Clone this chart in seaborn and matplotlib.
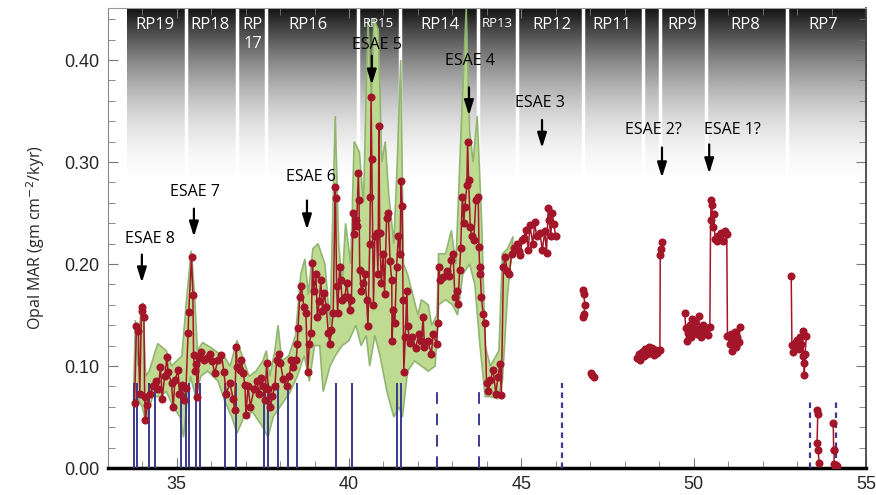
import numpy as np
import pandas as pd
import matplotlib
matplotlib.use('Agg')
import matplotlib.pyplot as plt
import seaborn as sns
from matplotlib.ticker import MultipleLocator, FormatStrFormatter

# --- dados ---
# segmento continuo 33.8 - 46.0 Ma
age_s1 = [33.78, 33.83, 33.88, 33.93, 33.98, 34.00, 34.05, 34.07, 34.09, 34.15,
          34.22, 34.32, 34.41, 34.46, 34.53, 34.58, 34.65, 34.72, 34.75, 34.85,
          34.90, 34.95, 35.04, 35.08, 35.16, 35.21, 35.27, 35.33, 35.35, 35.43,
          35.47, 35.49, 35.52, 35.57, 35.60, 35.65, 35.72, 35.80, 35.87, 35.96,
          36.03, 36.10, 36.20, 36.30, 36.37, 36.44, 36.54, 36.64, 36.68, 36.73,
          36.75, 36.83, 36.88, 36.93, 36.98, 37.01, 37.07, 37.14, 37.24, 37.32,
          37.40, 37.46, 37.51, 37.56, 37.61, 37.66, 37.72, 37.78, 37.85, 37.90,
          37.98, 38.01, 38.09, 38.19, 38.27, 38.33, 38.38, 38.47, 38.50, 38.52,
          38.57, 38.62, 38.69, 38.75, 38.80, 38.85, 38.90, 38.94, 38.98, 39.04,
          39.08, 39.14, 39.18, 39.23, 39.28, 39.34, 39.40, 39.44, 39.49, 39.54,
          39.60, 39.61, 39.64, 39.67, 39.73, 39.76, 39.80, 39.88, 39.93, 39.98,
          40.02, 40.07, 40.12, 40.15, 40.19, 40.22, 40.27, 40.29, 40.31, 40.36,
          40.41, 40.46, 40.51, 40.55, 40.60, 40.62, 40.64, 40.66, 40.71, 40.75,
          40.80, 40.84, 40.87, 40.89, 40.94, 40.99, 41.03, 41.09, 41.14, 41.19,
          41.24, 41.25, 41.28, 41.33, 41.38, 41.43, 41.48, 41.51, 41.54, 41.57,
          41.59, 41.63, 41.68, 41.70, 41.77, 41.84, 41.93, 42.03, 42.10, 42.15,
          42.19, 42.28, 42.39, 42.44, 42.54, 42.58, 42.60, 42.65, 42.73, 42.83,
          42.91, 42.97, 43.02, 43.07, 43.13, 43.16, 43.21, 43.24, 43.29, 43.33,
          43.36, 43.42, 43.44, 43.47, 43.52, 43.56, 43.62, 43.68, 43.75, 43.77,
          43.79, 43.81, 43.84, 43.89, 43.94, 43.99, 44.04, 44.10, 44.18, 44.26,
          44.32, 44.38, 44.42, 44.48, 44.53, 44.59, 44.65, 44.72, 44.79, 44.87,
          44.92, 44.97, 45.02, 45.08, 45.13, 45.20, 45.25, 45.33, 45.39, 45.44,
          45.54, 45.61, 45.68, 45.73, 45.78, 45.81, 45.85, 45.90, 45.94, 46.00]
mar_s1 = [0.064, 0.139, 0.134, 0.073, 0.158, 0.154, 0.148, 0.070, 0.047, 0.062,
          0.073, 0.080, 0.085, 0.077, 0.099, 0.068, 0.090, 0.109, 0.094, 0.083,
          0.060, 0.086, 0.096, 0.073, 0.081, 0.067, 0.078, 0.132, 0.153, 0.207,
          0.170, 0.111, 0.095, 0.102, 0.070, 0.108, 0.114, 0.106, 0.108, 0.112,
          0.105, 0.093, 0.106, 0.111, 0.094, 0.073, 0.083, 0.068, 0.057, 0.119,
          0.099, 0.096, 0.106, 0.093, 0.081, 0.052, 0.080, 0.060, 0.077, 0.085,
          0.073, 0.088, 0.080, 0.067, 0.103, 0.077, 0.060, 0.071, 0.080, 0.106,
          0.112, 0.103, 0.087, 0.080, 0.090, 0.106, 0.099, 0.106, 0.122, 0.137,
          0.168, 0.178, 0.158, 0.152, 0.094, 0.122, 0.132, 0.201, 0.174, 0.190,
          0.148, 0.164, 0.184, 0.154, 0.172, 0.158, 0.132, 0.122, 0.135, 0.152,
          0.276, 0.265, 0.178, 0.152, 0.197, 0.184, 0.165, 0.168, 0.181, 0.168,
          0.155, 0.165, 0.250, 0.229, 0.243, 0.237, 0.289, 0.263, 0.194, 0.174,
          0.181, 0.190, 0.165, 0.139, 0.220, 0.266, 0.364, 0.303, 0.160, 0.227,
          0.230, 0.190, 0.335, 0.230, 0.181, 0.210, 0.171, 0.245, 0.250, 0.203,
          0.184, 0.125, 0.155, 0.142, 0.197, 0.227, 0.210, 0.281, 0.257, 0.165,
          0.094, 0.128, 0.174, 0.139, 0.123, 0.128, 0.118, 0.131, 0.125, 0.148,
          0.119, 0.125, 0.112, 0.131, 0.122, 0.142, 0.197, 0.184, 0.187, 0.193,
          0.188, 0.204, 0.210, 0.168, 0.174, 0.161, 0.194, 0.216, 0.266, 0.240,
          0.256, 0.277, 0.320, 0.282, 0.236, 0.227, 0.224, 0.263, 0.266, 0.217,
          0.197, 0.190, 0.168, 0.151, 0.142, 0.083, 0.076, 0.086, 0.096, 0.073,
          0.089, 0.102, 0.072, 0.197, 0.207, 0.193, 0.190, 0.210, 0.216, 0.220,
          0.213, 0.209, 0.224, 0.226, 0.233, 0.214, 0.238, 0.220, 0.241, 0.227,
          0.230, 0.214, 0.232, 0.211, 0.255, 0.243, 0.227, 0.250, 0.239, 0.227]

age_s2 = [46.79, 46.81, 46.84, 46.82, 46.78]
mar_s2 = [0.175, 0.171, 0.160, 0.151, 0.148]

age_s3 = [47.01, 47.06, 47.11]
mar_s3 = [0.093, 0.091, 0.089]

age_s4 = [48.35, 48.40, 48.45, 48.50, 48.55, 48.60, 48.65, 48.70, 48.75, 48.80,
          48.85, 48.90, 48.95, 49.02, 49.03, 49.06, 49.09]
mar_s4 = [0.108, 0.112, 0.106, 0.114, 0.110, 0.117, 0.112, 0.119, 0.113, 0.118,
          0.111, 0.116, 0.113, 0.116, 0.209, 0.215, 0.222]

age_s5 = [49.74, 49.77, 49.80, 49.84, 49.88, 49.92, 49.96, 50.00, 50.05, 50.09,
          50.14, 50.18, 50.22, 50.27, 50.32, 50.38, 50.42, 50.47, 50.49, 50.51,
          50.53, 50.55, 50.58, 50.62, 50.67, 50.72, 50.78, 50.84, 50.90, 50.96,
          50.98, 51.04, 51.08, 51.12, 51.15, 51.19, 51.23, 51.27, 51.31, 51.35]
mar_s5 = [0.152, 0.137, 0.125, 0.132, 0.140, 0.128, 0.146, 0.135, 0.143, 0.131,
          0.149, 0.136, 0.128, 0.140, 0.133, 0.137, 0.130, 0.138, 0.243, 0.263,
          0.258, 0.236, 0.249, 0.225, 0.223, 0.227, 0.230, 0.223, 0.232, 0.229,
          0.129, 0.122, 0.131, 0.115, 0.126, 0.133, 0.119, 0.128, 0.124, 0.138]

age_s6 = [52.83, 52.85, 52.89, 52.93, 52.97, 53.01, 53.05, 53.08, 53.12, 53.16,
          53.18, 53.20, 53.21, 53.23, 53.27]
mar_s6 = [0.188, 0.121, 0.114, 0.123, 0.118, 0.126, 0.117, 0.128, 0.122, 0.134,
          0.110, 0.103, 0.091, 0.112, 0.129]

age_s7 = [53.57, 53.60, 53.58, 53.61, 53.64]
mar_s7 = [0.057, 0.053, 0.025, 0.018, 0.005]

age_s8 = [54.05, 54.06, 54.08, 54.07, 54.10, 54.13, 54.16]
mar_s8 = [0.044, 0.018, 0.018, 0.004, 0.002, 0.003, 0.002]

# envelope verde (incerteza)
env_up_age = [33.75, 33.80, 33.88, 33.95, 34.02, 34.10, 34.20, 34.45, 34.70, 34.85,
              35.00, 35.15, 35.30, 35.42, 35.52, 35.60, 35.75, 36.00, 36.20, 36.40,
              36.55, 36.75, 36.90, 37.10, 37.30, 37.50, 37.60, 37.70, 37.85, 37.94,
              38.05, 38.25, 38.45, 38.60, 38.72, 38.82, 38.95, 39.10, 39.30, 39.45,
              39.60, 39.70, 39.80, 39.90, 40.05, 40.15, 40.30, 40.42, 40.55, 40.65,
              40.72, 40.85, 40.95, 41.05, 41.15, 41.30, 41.40, 41.50, 41.58, 41.70,
              41.85, 42.00, 42.10, 42.30, 42.40, 42.55, 42.60, 42.80, 42.97, 43.10,
              43.25, 43.40, 43.50, 43.60, 43.72, 43.85, 43.95, 44.10, 44.35, 44.45,
              44.60, 44.76]
env_up = [0.070, 0.145, 0.100, 0.150, 0.162, 0.090, 0.095, 0.122, 0.115, 0.100,
          0.105, 0.110, 0.170, 0.213, 0.170, 0.115, 0.123, 0.118, 0.113, 0.108,
          0.100, 0.125, 0.110, 0.090, 0.095, 0.105, 0.115, 0.090, 0.115, 0.140,
          0.105, 0.110, 0.130, 0.190, 0.205, 0.170, 0.215, 0.220, 0.200, 0.140,
          0.345, 0.220, 0.180, 0.240, 0.200, 0.320, 0.310, 0.260, 0.440, 0.360,
          0.440, 0.430, 0.300, 0.320, 0.270, 0.220, 0.300, 0.400, 0.200, 0.190,
          0.170, 0.150, 0.165, 0.160, 0.140, 0.150, 0.210, 0.210, 0.233, 0.200,
          0.330, 0.450, 0.330, 0.300, 0.345, 0.240, 0.120, 0.100, 0.115, 0.210,
          0.215, 0.227]
env_lo_age = [33.75, 33.85, 34.00, 34.10, 34.30, 34.50, 34.70, 34.90, 35.10, 35.20,
              35.30, 35.40, 35.55, 35.70, 35.90, 36.20, 36.40, 36.60, 36.75, 36.95,
              37.20, 37.50, 37.65, 37.80, 38.00, 38.30, 38.50, 38.70, 38.85, 39.00,
              39.15, 39.25, 39.45, 39.60, 39.80, 40.00, 40.20, 40.35, 40.50, 40.60,
              40.75, 40.90, 41.10, 41.30, 41.45, 41.55, 41.70, 41.90, 42.10, 42.30,
              42.50, 42.60, 42.80, 43.00, 43.15, 43.30, 43.50, 43.65, 43.80, 43.95,
              44.10, 44.30, 44.45, 44.60, 44.76]
env_lo = [0.060, 0.070, 0.060, 0.045, 0.070, 0.070, 0.075, 0.060, 0.050, 0.030,
          0.065, 0.090, 0.070, 0.090, 0.095, 0.085, 0.065, 0.050, 0.034, 0.050,
          0.055, 0.040, 0.030, 0.050, 0.060, 0.075, 0.090, 0.110, 0.085, 0.120,
          0.120, 0.075, 0.100, 0.110, 0.120, 0.125, 0.140, 0.120, 0.130, 0.100,
          0.130, 0.110, 0.075, 0.050, 0.060, 0.050, 0.095, 0.105, 0.100, 0.095,
          0.100, 0.160, 0.165, 0.160, 0.150, 0.190, 0.200, 0.180, 0.120, 0.070,
          0.070, 0.068, 0.085, 0.170, 0.227]

# linhas azuis (niveis) e limites dos pacotes RP
solid_ages = [33.76, 33.86, 34.21, 34.36, 35.12, 35.26, 35.36, 35.55, 35.67, 36.40,
              36.71, 37.53, 37.66, 37.94, 38.22, 38.48, 39.62, 40.10, 41.38, 41.50]
dashed_ages = [42.56, 43.77]
dotted_ages = [46.17, 53.38, 54.13]
dotted_tops = [0.083, 0.069, 0.069]

rp_bounds = [35.26, 36.76, 37.60, 40.27, 41.47, 43.75, 44.88, 46.78, 48.52, 49.01,
             50.37, 52.72]
rp_labels = ['RP19', 'RP18', 'RP\n17', 'RP16', 'RP15', 'RP14', 'RP13', 'RP12',
             'RP11', 'RP9', 'RP8', 'RP7']
rp_pos = [34.36, 35.96, 37.21, 38.81, 40.84, 42.64, 44.29, 45.89, 47.63, 49.66,
          51.49, 53.75]

esae_labels = ['ESAE 8', 'ESAE 7', 'ESAE 6', 'ESAE 5', 'ESAE 4', 'ESAE 3',
               'ESAE 2?', 'ESAE 1?']
esae_text_x = [34.22, 35.53, 38.89, 40.81, 43.50, 45.53, 48.83, 51.11]
esae_text_y = [0.225, 0.271, 0.285, 0.415, 0.399, 0.358, 0.331, 0.331]
esae_arrow_x = [33.99, 35.50, 38.78, 40.66, 43.48, 45.60, 49.08, 50.45]
esae_tail = [0.212, 0.257, 0.265, 0.407, 0.376, 0.344, 0.317, 0.320]
esae_tip = [0.179, 0.224, 0.231, 0.373, 0.343, 0.311, 0.282, 0.286]

segs = [(age_s1, mar_s1), (age_s2, mar_s2), (age_s3, mar_s3), (age_s4, mar_s4),
        (age_s5, mar_s5), (age_s6, mar_s6), (age_s7, mar_s7), (age_s8, mar_s8)]
df = pd.concat([pd.DataFrame({'age': a, 'mar': m, 'seg': i})
                for i, (a, m) in enumerate(segs)], ignore_index=True)

sns.set_style('ticks')
plt.rcParams['font.family'] = ['Liberation Sans', 'DejaVu Sans']
label_font = ['Open Sans', 'DejaVu Sans']

fig = plt.figure(figsize=(8.76, 4.95), dpi=100)
ax = fig.add_axes([0.123, 0.0545, 0.8656, 0.9293])

# fundo em degrade (preto no topo -> branco)
t = np.linspace(0, 1, 300)[:, None]
grad = 0.07 + 0.93 * (1 - (1 - t) ** 2)
ax.imshow(np.repeat(grad, 2, axis=1), extent=[33.55, 55, 0.272, 0.451], aspect='auto',
          cmap='gray', vmin=0, vmax=1, zorder=0, interpolation='bilinear')
ax.vlines(rp_bounds, 0.275, 0.451, color='white', lw=2.5, zorder=1)
for lab, xp in zip(rp_labels, rp_pos):
    small = lab in ('RP15', 'RP13')
    ax.text(xp, 0.442, lab, ha='center', va='top', color='white',
            fontsize=9.5 if small else 12, linespacing=1.2, zorder=6,
            family=label_font)

# envelope
ax.fill(np.concatenate([env_up_age, env_lo_age[::-1]]),
        np.concatenate([env_up, env_lo[::-1]]),
        facecolor='#bcd98c', edgecolor='#8db36e', lw=1.2, alpha=0.95, zorder=2)

# linhas azuis
ax.vlines(solid_ages, 0, 0.083, color='#3b3a8f', lw=1.4, zorder=3)
ax.vlines(dashed_ages, 0, 0.083, color='#3b3a8f', lw=1.4, linestyles=(0, (6, 5)), zorder=3)
ax.vlines(dotted_ages, 0, dotted_tops, color='#3b3a8f', lw=1.6, linestyles=(0, (2.5, 2)), zorder=3)

# serie opala
sns.lineplot(data=df, x='age', y='mar', units='seg', estimator=None, sort=False,
             color='#a3162a', lw=1.1, marker='o', markersize=5.8,
             markeredgewidth=0, legend=False, ax=ax, zorder=4)

for lab, tx, ty, axp, t0, t1 in zip(esae_labels, esae_text_x, esae_text_y,
                                     esae_arrow_x, esae_tail, esae_tip):
    ax.text(tx, ty, lab, ha='center', va='center', fontsize=11.5, color='black',
            family=label_font, zorder=6)
    ax.annotate('', xy=(axp, t1), xytext=(axp, t0),
                arrowprops=dict(arrowstyle='-|>,head_width=0.28,head_length=0.9',
                                color='black', lw=1.6), zorder=6)

ax.set_xlim(33, 55)
ax.set_ylim(0, 0.451)
ax.xaxis.set_major_locator(MultipleLocator(5))
ax.xaxis.set_minor_locator(MultipleLocator(1))
ax.yaxis.set_major_locator(MultipleLocator(0.1))
ax.yaxis.set_minor_locator(MultipleLocator(0.02))
ax.yaxis.set_major_formatter(FormatStrFormatter('%.2f'))
ax.tick_params(which='both', direction='in', top=True, right=True, color='#777777')
ax.tick_params(which='major', length=7, labelsize=13, pad=6)
ax.tick_params(which='minor', length=5)
ax.set_xlabel('')
ax.set_ylabel('Opal MAR (gm cm$^{-2}$/kyr)', fontsize=11.5, labelpad=12,
              family=label_font)

ax.spines['bottom'].set_linewidth(2.5)
ax.spines['bottom'].set_color('black')
ax.spines['left'].set_color('#888888')
ax.spines['top'].set_color('#999999')
ax.spines['right'].set_color('#444444')
ax.spines['right'].set_linewidth(1.3)

fig.savefig('out.png', dpi=100)
